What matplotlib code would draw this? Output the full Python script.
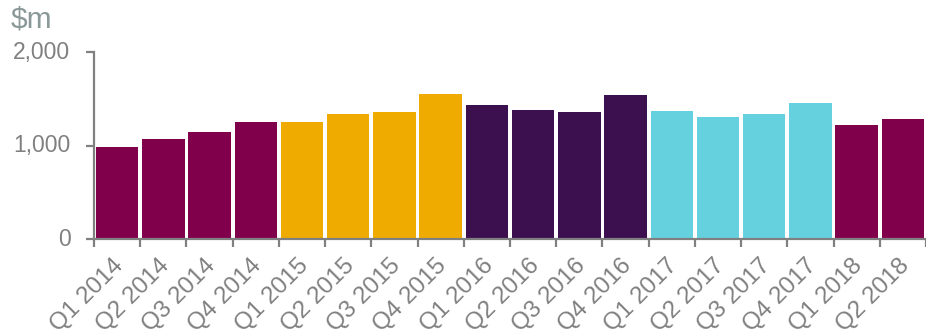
import matplotlib
matplotlib.use("Agg")
import matplotlib.pyplot as plt
import matplotlib.transforms as mtransforms
import numpy as np

plt.rcParams['font.family'] = ['Liberation Sans', 'DejaVu Sans']

categories = ["Q1 2014", "Q2 2014", "Q3 2014", "Q4 2014",
              "Q1 2015", "Q2 2015", "Q3 2015", "Q4 2015",
              "Q1 2016", "Q2 2016", "Q3 2016", "Q4 2016",
              "Q1 2017", "Q2 2017", "Q3 2017", "Q4 2017",
              "Q1 2018", "Q2 2018"]
values = [985, 1070, 1145, 1250,
          1250, 1335, 1355, 1550,
          1430, 1380, 1355, 1540,
          1370, 1300, 1337, 1450,
          1220, 1283]
year_colors = {"2014": "#80004C", "2015": "#F0AB00", "2016": "#3C0F4F",
               "2017": "#66D1DE", "2018": "#80004C"}
colors = [year_colors[c.split()[1]] for c in categories]

fig = plt.figure(figsize=(9.26, 3.31), dpi=100)
ax = fig.add_axes([94/926, 1-239/331, 1-94/926, (239-52)/331])

x = np.arange(len(categories)) + 0.5
ax.bar(x, values, width=0.92, color=colors, edgecolor='none')

ax.set_xlim(0, len(categories))
ax.set_ylim(0, 2000)
ax.set_yticks([0, 1000, 2000])
ax.set_yticklabels(["0", "1,000", "2,000"])
ax.set_xticks(np.arange(len(categories) + 1))
ax.set_xticklabels([])
ax.set_xticks(x, minor=True)
ax.set_xticklabels(categories, minor=True, rotation=45, ha='right', va='top',
                   rotation_mode='anchor')

grey = "#808080"
for s in ['top', 'right']:
    ax.spines[s].set_visible(False)
for s in ['left', 'bottom']:
    ax.spines[s].set_color(grey)
    ax.spines[s].set_linewidth(1.6)
ax.tick_params(axis='y', which='major', length=6, width=1.6, color=grey,
               labelcolor=grey, labelsize=16.5, pad=11)
ax.tick_params(axis='x', which='major', length=6, width=1.6, color=grey)
ax.tick_params(axis='x', which='minor', length=0, labelcolor=grey,
               labelsize=17.5, pad=11)
for lbl in ax.get_yticklabels():
    lbl.set_verticalalignment('center')

offset = mtransforms.ScaledTranslation(-5/100, 0, fig.dpi_scale_trans)
for lbl in ax.get_xticklabels(minor=True):
    lbl.set_transform(lbl.get_transform() + offset)

fig.text(11/926, 1-5/331, "$m", color="#8A9898", fontsize=21.5, ha='left', va='top')

fig.savefig("out.png", dpi=100)
